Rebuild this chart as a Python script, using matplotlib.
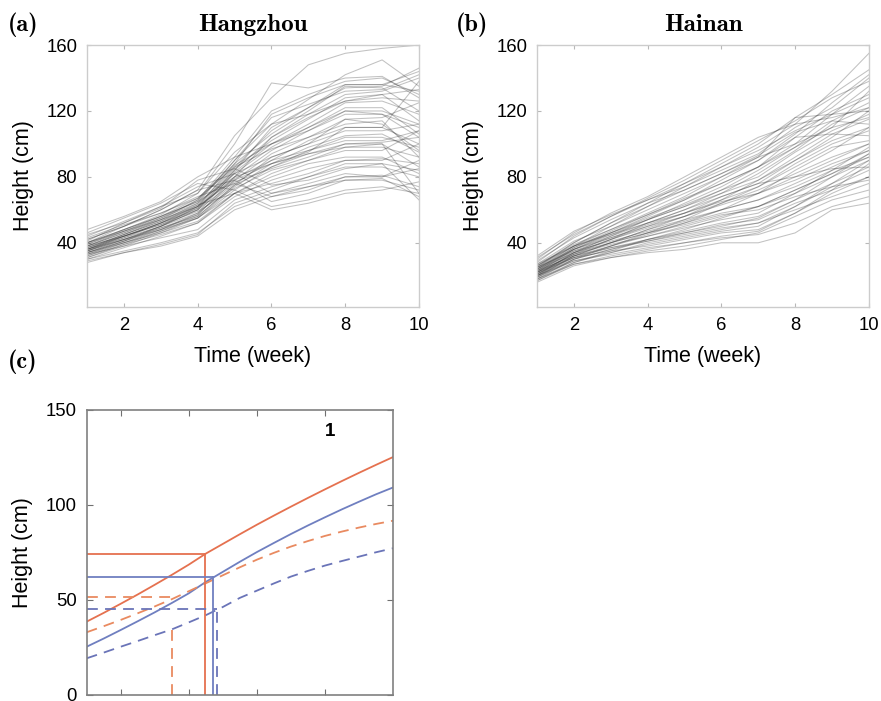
import matplotlib
matplotlib.use("Agg")
import matplotlib.pyplot as plt

weeks = [1, 2, 3, 4, 5, 6, 7, 8, 9, 10]

# Heights (cm) per plant, weeks 1..10
hangzhou = [
    [36, 44, 52, 62, 88, 118, 128, 136, 136, 132],
    [38, 46, 55, 66, 92, 120, 130, 138, 140, 130],
    [40, 48, 57, 70, 100, 137, 134, 140, 141, 128],
    [42, 50, 60, 72, 105, 128, 148, 155, 158, 160],
    [37, 45, 53, 64, 90, 112, 127, 142, 151, 135],
    [35, 43, 52, 63, 86, 108, 122, 134, 135, 146],
    [34, 42, 50, 60, 84, 104, 118, 130, 132, 140],
    [39, 47, 56, 67, 88, 106, 120, 135, 134, 120],
    [33, 41, 50, 62, 85, 102, 115, 128, 130, 133],
    [36, 45, 54, 66, 87, 100, 112, 125, 126, 118],
    [35, 42, 50, 60, 82, 98, 110, 120, 120, 112],
    [38, 44, 51, 61, 80, 96, 108, 118, 118, 104],
    [32, 40, 48, 57, 78, 94, 104, 115, 116, 125],
    [36, 43, 50, 58, 76, 90, 102, 110, 110, 100],
    [34, 41, 49, 56, 75, 92, 100, 108, 108, 112],
    [31, 38, 46, 55, 74, 88, 98, 105, 106, 95],
    [37, 45, 53, 62, 79, 90, 96, 102, 102, 108],
    [33, 40, 47, 55, 72, 86, 94, 100, 100, 86],
    [35, 44, 52, 60, 77, 85, 92, 100, 101, 104],
    [30, 37, 44, 52, 70, 82, 90, 98, 98, 92],
    [40, 48, 56, 65, 80, 88, 95, 110, 110, 138],
    [38, 47, 55, 64, 82, 92, 100, 115, 112, 96],
    [34, 40, 46, 53, 70, 80, 88, 92, 92, 82],
    [32, 39, 45, 52, 68, 78, 85, 90, 90, 100],
    [36, 42, 48, 55, 70, 76, 82, 90, 91, 88],
    [42, 50, 58, 68, 76, 68, 72, 80, 80, 85],
    [44, 53, 62, 74, 82, 70, 74, 80, 81, 74],
    [40, 50, 60, 72, 78, 65, 70, 78, 79, 68],
    [46, 55, 64, 76, 72, 62, 66, 72, 74, 70],
    [38, 46, 54, 63, 70, 60, 64, 70, 72, 77],
    [41, 52, 61, 78, 85, 75, 78, 85, 88, 84],
    [30, 35, 40, 46, 62, 70, 76, 82, 80, 90],
    [29, 34, 39, 45, 64, 72, 80, 88, 88, 66],
    [33, 38, 43, 48, 66, 74, 80, 86, 86, 80],
    [28, 34, 38, 44, 60, 68, 74, 78, 78, 72],
    [48, 56, 65, 80, 92, 100, 108, 120, 118, 110],
    [45, 52, 62, 70, 95, 112, 118, 126, 130, 114],
    [39, 48, 56, 65, 90, 116, 124, 132, 133, 142],
    [35, 42, 49, 57, 80, 104, 116, 126, 128, 126],
    [37, 44, 52, 61, 84, 110, 122, 136, 136, 144],
    [34, 41, 48, 58, 83, 100, 110, 122, 122, 106],
    [40, 47, 54, 62, 78, 88, 94, 98, 100, 70],
    [36, 44, 51, 59, 73, 84, 90, 96, 96, 108],
    [31, 39, 47, 56, 75, 86, 96, 104, 104, 98],
    [43, 51, 58, 67, 86, 97, 104, 112, 114, 92],
]

# Heights (cm) per plant, weeks 1..10
hainan = [
    [24, 38, 50, 62, 74, 86, 98, 112, 132, 155],
    [26, 40, 52, 64, 76, 88, 100, 116, 130, 145],
    [22, 36, 46, 56, 66, 78, 90, 106, 125, 142],
    [28, 44, 56, 67, 78, 90, 102, 114, 128, 138],
    [20, 34, 44, 54, 64, 74, 86, 100, 118, 135],
    [25, 38, 48, 58, 68, 80, 90, 104, 120, 130],
    [23, 36, 45, 54, 62, 72, 84, 98, 114, 125],
    [21, 33, 42, 52, 60, 70, 82, 96, 112, 122],
    [27, 41, 50, 60, 70, 80, 92, 116, 118, 120],
    [24, 37, 46, 55, 63, 72, 80, 95, 108, 118],
    [19, 32, 40, 48, 56, 66, 78, 92, 106, 115],
    [22, 35, 43, 51, 58, 68, 76, 90, 102, 110],
    [26, 39, 48, 57, 66, 76, 86, 104, 106, 105],
    [18, 30, 38, 46, 54, 64, 74, 88, 100, 108],
    [23, 34, 42, 50, 58, 66, 74, 86, 98, 102],
    [30, 46, 58, 68, 80, 92, 104, 112, 116, 122],
    [32, 47, 57, 66, 76, 86, 96, 108, 118, 128],
    [20, 31, 38, 45, 52, 60, 70, 84, 96, 110],
    [25, 36, 43, 50, 56, 64, 72, 82, 92, 100],
    [22, 33, 39, 44, 49, 54, 58, 70, 84, 98],
    [20, 30, 36, 42, 46, 50, 55, 66, 80, 94],
    [18, 28, 34, 40, 44, 48, 52, 62, 76, 90],
    [24, 34, 40, 46, 52, 58, 62, 72, 82, 92],
    [21, 31, 37, 42, 47, 52, 56, 66, 76, 86],
    [19, 29, 34, 39, 43, 47, 50, 62, 74, 84],
    [17, 27, 32, 36, 40, 44, 47, 58, 70, 80],
    [23, 32, 37, 41, 45, 49, 52, 60, 68, 76],
    [16, 26, 31, 35, 38, 42, 46, 56, 66, 72],
    [20, 29, 33, 37, 40, 43, 45, 52, 62, 68],
    [18, 27, 31, 34, 36, 40, 40, 46, 60, 64],
    [22, 31, 35, 38, 42, 46, 48, 58, 72, 88],
    [25, 35, 41, 47, 53, 60, 66, 76, 86, 96],
    [21, 32, 38, 44, 50, 56, 62, 70, 80, 90],
    [19, 30, 36, 41, 46, 51, 54, 64, 72, 80],
    [27, 38, 45, 52, 58, 65, 70, 80, 90, 100],
    [24, 36, 44, 52, 60, 68, 76, 80, 85, 86],
    [17, 28, 35, 42, 48, 55, 62, 72, 82, 94],
    [26, 38, 46, 54, 62, 70, 78, 90, 104, 120],
    [29, 43, 54, 64, 72, 82, 92, 100, 110, 116],
    [21, 34, 42, 49, 56, 63, 70, 78, 88, 96],
    [23, 37, 47, 57, 67, 76, 86, 98, 110, 132],
    [20, 32, 40, 48, 54, 60, 66, 74, 84, 92],
    [31, 45, 56, 66, 74, 84, 94, 110, 122, 140],
    [22, 33, 40, 46, 51, 57, 60, 68, 74, 78],
    [25, 40, 52, 62, 72, 82, 93, 107, 114, 112],
]

# Panel (c): fitted growth curves, read every quarter unit
c_time = [0.5, 0.75, 1.0, 1.25, 1.5, 1.75, 2.0, 2.25, 2.5, 2.75,
          3.0, 3.25, 3.5, 3.75, 4.0, 4.25, 4.5, 4.75, 5.0]
orange_solid = [38.6, 43.2, 48.0, 52.9, 58.0, 63.2, 68.6, 74.4, 79.5, 84.6,
                89.6, 94.4, 99.1, 103.7, 108.2, 112.6, 116.9, 121.1, 125.2]
blue_solid = [25.4, 29.7, 34.2, 38.8, 43.5, 48.4, 53.5, 59.5, 64.8, 70.1,
              75.2, 80.0, 84.7, 89.2, 93.5, 97.7, 101.7, 105.6, 109.2]
orange_dashed = [33.0, 36.2, 39.5, 43.0, 46.6, 50.4, 54.6, 58.8, 63.0, 67.2,
                 71.2, 74.8, 78.1, 81.0, 83.7, 86.0, 88.1, 90.0, 91.7]
blue_dashed = [19.3, 22.3, 25.4, 28.4, 31.5, 34.5, 38.2, 42.0, 46.3, 51.1,
               54.9, 58.7, 62.3, 65.3, 68.1, 70.5, 72.8, 75.1, 77.2]

# guide lines: (time of drop, height of horizontal, end of horizontal, top of drop)
orange_solid_mark = (2.24, 74.2, 2.24, 74.2)
blue_solid_mark = (2.36, 62.3, 2.36, 62.3)
orange_dashed_mark = (1.75, 51.4, 1.80, 35.0)
blue_dashed_mark = (2.41, 45.1, 2.41, 45.1)

ORANGE = "#e5714f"
BLUE = "#6f7fc0"
ORANGE_D = "#e98a60"
BLUE_D = "#6a74b8"
DASH = (0, (6, 4))

SANS = ["Liberation Sans", "DejaVu Sans"]
SERIF_B = ["cmb10", "DejaVu Serif"]

fig = plt.figure(figsize=(8.81, 7.01), dpi=100)


def spaghetti(ax, data, title):
    for h in data:
        ax.plot(weeks, h, color="#222222", lw=0.75, alpha=0.28)
    ax.set_xlim(1, 10)
    ax.set_ylim(1, 160)
    ax.set_xticks([2, 4, 6, 8, 10])
    ax.set_yticks([40, 80, 120, 160])
    for s in ax.spines.values():
        s.set_color("#cccccc")
        s.set_linewidth(1.0)
    ax.tick_params(direction="in", length=3, color="#b8b8b8", top=True,
                   right=True, labelsize=13.3, pad=7)
    ax.set_xlabel("Time (week)", fontsize=15.5, family=SANS, labelpad=9)
    ax.set_ylabel("Height (cm)", fontsize=15.5, family=SANS, labelpad=9)
    ax.set_title(title, fontsize=18, family=SERIF_B, pad=10)
    for lab in ax.get_xticklabels() + ax.get_yticklabels():
        lab.set_family(SANS)


ax_a = fig.add_axes([0.0988, 0.562, 0.3768, 0.3737])
spaghetti(ax_a, hangzhou, "Hangzhou")
ax_b = fig.add_axes([0.6095, 0.562, 0.3768, 0.3737])
spaghetti(ax_b, hainan, "Hainan")

ax_c = fig.add_axes([0.0984, 0.0086, 0.3477, 0.4066])
ax_c.plot(c_time, orange_solid, color=ORANGE, lw=1.3)
ax_c.plot(c_time, blue_solid, color=BLUE, lw=1.3)
ax_c.plot(c_time, orange_dashed, color=ORANGE_D, lw=1.3, ls=DASH)
ax_c.plot(c_time, blue_dashed, color=BLUE_D, lw=1.3, ls=DASH)

for (tx, hy, hx, top), col, ls in [(orange_solid_mark, ORANGE, "-"),
                                   (blue_solid_mark, BLUE, "-"),
                                   (orange_dashed_mark, ORANGE_D, DASH),
                                   (blue_dashed_mark, BLUE_D, DASH)]:
    ax_c.plot([0.5, hx], [hy, hy], color=col, lw=1.3, ls=ls)
    ax_c.plot([tx, tx], [0, top], color=col, lw=1.3, ls=ls)

ax_c.text(4.07, 138.6, "1", fontsize=13.5, fontweight="bold", family=SANS,
          ha="center", va="center")
ax_c.set_xlim(0.5, 5.0)
ax_c.set_ylim(0, 150)
ax_c.set_xticks([1, 2, 3, 4])
ax_c.set_xticklabels([])
ax_c.set_yticks([0, 50, 100, 150])
for s in ax_c.spines.values():
    s.set_color("#808080")
    s.set_linewidth(1.2)
ax_c.tick_params(direction="in", length=4, color="#707070", top=True,
                 right=True, labelsize=13.3, pad=7)
for lab in ax_c.get_yticklabels():
    lab.set_family(SANS)
ax_c.set_ylabel("Height (cm)", fontsize=15.5, family=SANS, labelpad=9)

# panel letters
fig.text(0.009, 0.956, "(a)", fontsize=17.5, family=SERIF_B, va="baseline")
fig.text(0.518, 0.956, "(b)", fontsize=17.5, family=SERIF_B, va="baseline")
fig.text(0.009, 0.475, "(c)", fontsize=17.5, family=SERIF_B, va="baseline")

fig.savefig("out.png", dpi=100)
